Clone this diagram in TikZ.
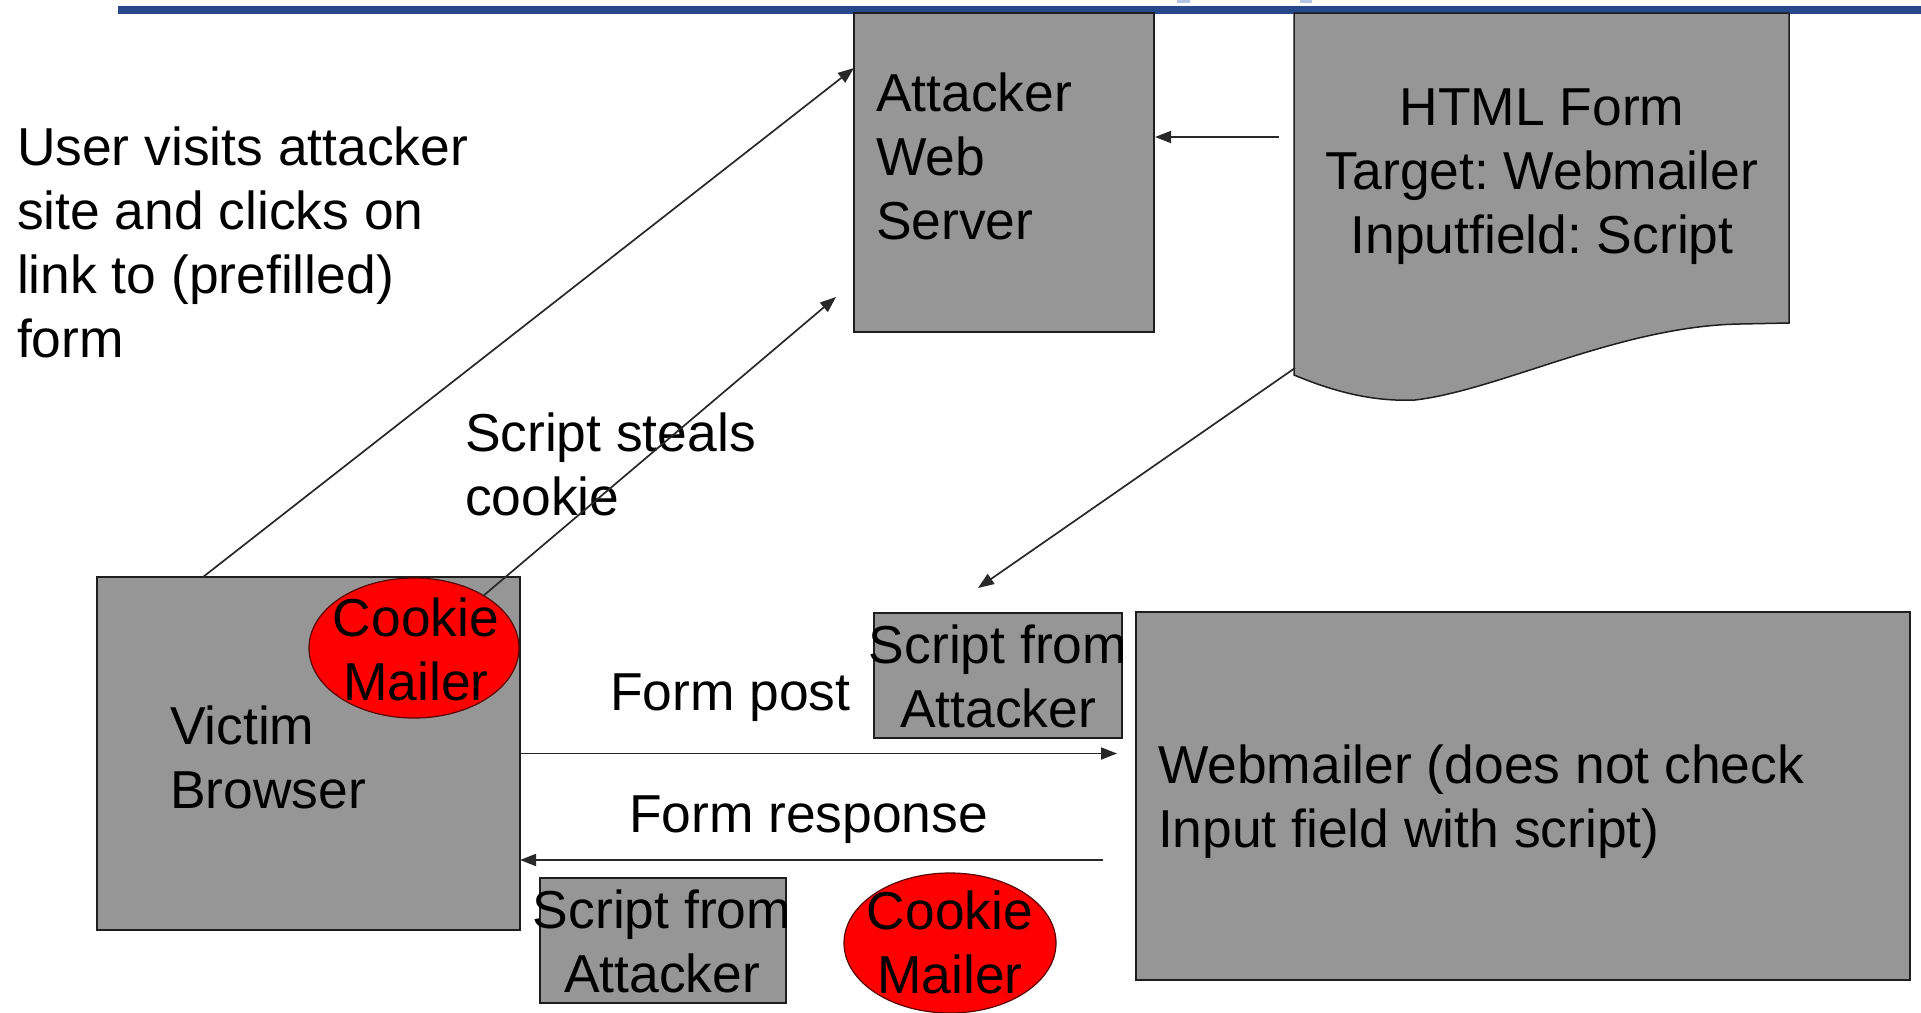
\documentclass[tikz,border=0pt]{standalone}
\usepackage{fontspec}
\setmainfont{Liberation Sans}
\usetikzlibrary{arrows.meta,calc,shapes.geometric}
\frenchspacing

\definecolor{boxgray}{RGB}{150,150,150}
\definecolor{edgeline}{RGB}{30,30,30}
\definecolor{wireline}{RGB}{40,40,40}
\definecolor{barblue}{RGB}{40,72,140}
\definecolor{barlight}{RGB}{180,196,228}
\definecolor{cookiered}{RGB}{255,0,0}
\definecolor{cookieedge}{RGB}{90,0,0}

\begin{document}
\begin{tikzpicture}[x=1pt,y=-1pt,
  every node/.style={inner sep=0pt, outer sep=0pt},
  % multi-line labels are placed by the baseline of their last line
  txt/.style={font=\fontsize{53.4}{64}\selectfont, align=left, anchor=base west},
  ctxt/.style={font=\fontsize{53.4}{64}\selectfont, align=center, anchor=base},
  graybox/.style={rectangle, draw=edgeline, line width=1.5pt, fill=boxgray},
  cookie/.style={ellipse, draw=cookieedge, line width=1.2pt, fill=cookiered},
  wire/.style={draw=wireline, line width=1.7pt},
  arrow/.style={wire, -{Triangle[length=16pt,width=12pt]}}
]
\useasboundingbox (0,0) rectangle (1921,1012);

% header rule
\fill[barlight] (1177,0) rectangle (1190,3);
\fill[barlight] (1300,0) rectangle (1312,3);
\fill[barblue] (118,5.5) rectangle (1921,14);

% servers and pages
\node[graybox, minimum width=300, minimum height=319] (attacker) at (1004,172.5) {};
\node[minimum width=495, minimum height=387] (form) at (1541.5,206.5) {};
\filldraw[fill=boxgray, draw=edgeline, line width=1.5pt]
  (form.north west) -- (form.north east) -- (1789,323) -- (1740,324)
  .. controls (1620,326) and (1500,390) .. (1415,400)
  .. controls (1370,402) and (1330,390) .. (1294,375) -- cycle;
\node[graybox, minimum width=423, minimum height=353] (victim) at (308.5,753.5) {};
\node[cookie, minimum width=210, minimum height=140] (cookieA) at (414,648) {};
\node[graybox, minimum width=774, minimum height=368] (webmailer) at (1523,796) {};
\node[graybox, minimum width=248, minimum height=125] (scriptA) at (998,675.5) {};
\node[graybox, minimum width=246, minimum height=125] (scriptB) at (663,940.5) {};
\node[cookie, minimum width=212, minimum height=140] (cookieB) at (950,943) {};

% labels
\node[txt] (attackerlbl) at (876,239) {Attacker\\Web\\Server};
\node[ctxt] (formlbl) at (1542,253) {HTML Form\\Target: Webmailer\\Inputfield: Script};
\node[txt] (victimlbl) at (170,808) {Victim\\Browser};
\node[ctxt] (cookieAlbl) at (416,700) {Cookie\\Mailer};
\node[ctxt] (cookieBlbl) at (950,993) {Cookie\\Mailer};
\node[ctxt] (scriptAlbl) at (998,727) {Script from\\Attacker};
\node[ctxt] (scriptBlbl) at (662,992) {Script from\\Attacker};
\node[txt] (webmailerlbl) at (1158,847) {Webmailer (does not check\\Input field with script)};
\node[txt] (visitlbl) at (17,357) {User visits attacker\\site and clicks on\\link to (prefilled)\\form};
\node[txt] (steallbl) at (465,515) {Script steals\\cookie};
\node[txt] (postlbl) at (610,710) {Form post};
\node[txt] (resplbl) at (629,832) {Form response};

% connectors
\draw[arrow] ($(victim.north west)+(106,0)$) -- ($(attacker.north west)+(0,55)$);
\draw[arrow] (cookieA.37) -- ($(attacker.south west)+(-18,-35)$);
\draw[arrow] ($(form.north west)+(-15,124)$) -- ($(attacker.north east)+(1,124)$);
\draw[arrow] ($(form.north west)+(1,355)$) -- ($(scriptA.north)+(-20,-25)$);
\draw[arrow] (victim.east) -- ($(victim.east -| webmailer.west)+(-19,0)$);
\draw[arrow] ($(victim.east -| webmailer.west)+(-33,106.5)$) -- ($(victim.east)+(0,106.5)$);
\end{tikzpicture}
\end{document}
